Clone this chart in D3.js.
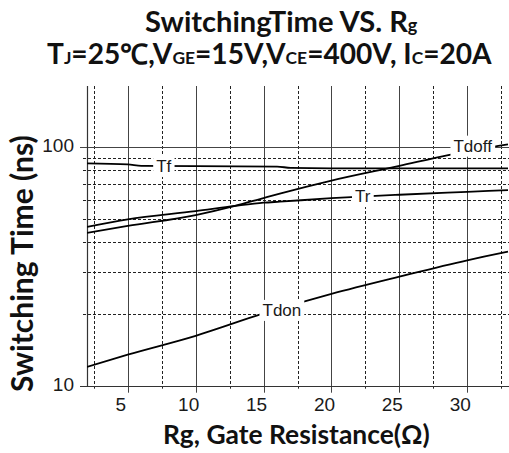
<!DOCTYPE html>
<html><head><meta charset="utf-8">
<script src="https://cdn.jsdelivr.net/npm/d3@7"></script>
<style>body{margin:0;background:#fff}</style></head>
<body>
<svg id="c" width="509" height="453"></svg>
<script>
// ---- data ----
const rgTdon = [2, 5, 10, 15, 20, 25, 30, 33];
const tdon   = [12.0, 13.5, 16.2, 20.1, 24.3, 28.7, 33.6, 36.5];
const rgTr   = [2, 5, 10, 12.9, 15, 16.2, 20, 25, 30, 33];
const tr     = [46.4, 49.9, 54.0, 56.8, 58.6, 59.2, 61.2, 63.3, 65.1, 66.2];
const rgTdoff = [2, 5, 10, 12.9, 15, 16.2, 20, 25, 28.6, 33];
const tdoff   = [43.8, 46.8, 52.0, 56.8, 61.3, 64.0, 72.6, 83.7, 92.9, 103];
const rgTf = [2, 5, 6, 16, 17, 20, 33];
const tf   = [85.7, 84.9, 83.7, 83.0, 82.1, 81.7, 81.6];
const xMajorTicks = [5, 10, 15, 20, 25, 30];
const xMinorTicks = [2.5, 7.5, 12.5, 17.5, 22.5, 27.5, 32.5];
const yMajorTicks = [10, 100];
const yMinorTicks = [20, 30, 40, 50, 60, 70, 80, 90];
const curveLabels = [
  {name: "Tf",    rg: 7.65,  v: 83.6},
  {name: "Tr",    rg: 22.3,  v: 62.5},
  {name: "Tdoff", rg: 30.4,  v: 101.7},
  {name: "Tdon",  rg: 16.35, v: 20.8}
];

// ---- layout ----
const L = 87, R = 508, T = 86, B = 385.7;
const svg = d3.select("#c");
const x = d3.scaleLinear().domain([2, 33]).range([L, R]);
const y = d3.scaleLog().domain([10, 181]).range([B, T]);
const TF = "'Liberation Sans', Arial, sans-serif";
const BF = "Lato, 'Open Sans', sans-serif";

svg.append("defs").append("clipPath").attr("id", "pc")
  .append("rect").attr("x", L).attr("y", T).attr("width", R - L + 1).attr("height", B - T);

const g = svg.append("g");
// grid
g.selectAll(".vmin").data(xMinorTicks).join("line")
  .attr("x1", d => Math.round(x(d)) + 0.5).attr("x2", d => Math.round(x(d)) + 0.5)
  .attr("y1", T).attr("y2", B + 3)
  .attr("stroke", "#222").attr("stroke-width", 1).attr("stroke-dasharray", "3,2");
g.selectAll(".vmaj").data(xMajorTicks).join("line")
  .attr("x1", d => Math.round(x(d)) + 0.5).attr("x2", d => Math.round(x(d)) + 0.5)
  .attr("y1", T).attr("y2", B + 7)
  .attr("stroke", "#444").attr("stroke-width", 1);
g.selectAll(".hmin").data(yMinorTicks).join("line")
  .attr("x1", L - 4).attr("x2", R + 1)
  .attr("y1", d => Math.round(y(d)) + 0.5).attr("y2", d => Math.round(y(d)) + 0.5)
  .attr("stroke", "#222").attr("stroke-width", 1).attr("stroke-dasharray", "3,2");
g.selectAll(".hmaj").data(yMajorTicks).join("line")
  .attr("x1", L - 7).attr("x2", R + 1)
  .attr("y1", d => Math.round(y(d)) + 0.5).attr("y2", d => Math.round(y(d)) + 0.5)
  .attr("stroke", "#444").attr("stroke-width", 1);
// axes lines
g.append("line").attr("x1", L + 0.5).attr("x2", L + 0.5).attr("y1", T).attr("y2", B + 1)
  .attr("stroke", "#333").attr("stroke-width", 1.2);
g.append("line").attr("x1", L - 7).attr("x2", R + 1).attr("y1", Math.round(B) + 0.5).attr("y2", Math.round(B) + 0.5)
  .attr("stroke", "#333").attr("stroke-width", 1.2);

// tick labels
g.selectAll(".xl").data(xMajorTicks).join("text")
  .attr("x", d => x(d) - 7).attr("y", 411)
  .attr("text-anchor", "middle").attr("font-family", TF).attr("font-size", 19)
  .attr("fill", "#1a1a1a").text(d => d);
g.selectAll(".yl").data(yMajorTicks).join("text")
  .attr("x", 74).attr("y", d => y(d) + 5)
  .attr("text-anchor", "end").attr("font-family", TF).attr("font-size", 19)
  .attr("fill", "#1a1a1a").text(d => d);

// curves
const line = d3.line().x(d => x(d[0])).y(d => y(d[1])).curve(d3.curveMonotoneX);
const series = [[rgTdon, tdon], [rgTr, tr], [rgTdoff, tdoff], [rgTf, tf]];
const cg = svg.append("g").attr("clip-path", "url(#pc)");
series.forEach(([xs, vs]) => {
  cg.append("path").attr("d", line(xs.map((r, i) => [r, vs[i]])))
    .attr("fill", "none").attr("stroke", "#000").attr("stroke-width", 1.8);
});

// curve labels with white background
curveLabels.forEach(c => {
  const gg = svg.append("g");
  const t = gg.append("text").attr("x", x(c.rg)).attr("y", y(c.v) + 6)
    .attr("text-anchor", "middle").attr("font-family", TF).attr("font-size", 17)
    .attr("fill", "#1a1a1a").text(c.name);
  const bb = t.node().getBBox();
  gg.insert("rect", "text").attr("x", bb.x - 3).attr("y", bb.y - 1)
    .attr("width", bb.width + 6).attr("height", bb.height + 2).attr("fill", "#fff");
});

// fit helper
function fit(sel, target) {
  const w = sel.node().getBBox().width;
  const fs = +sel.attr("font-size");
  sel.attr("font-size", fs * target / w);
}

// titles
const t1 = svg.append("text").attr("x", 145).attr("y", 32)
  .attr("font-family", BF).attr("font-weight", "bold").attr("font-size", 26).attr("fill", "#111");
t1.append("tspan").text("SwitchingTime VS. R");
t1.append("tspan").attr("font-size", "0.62em").text("g");
fit(t1, 273);

const t2 = svg.append("text").attr("x", 47).attr("y", 63.5)
  .attr("font-family", BF).attr("font-weight", "bold").attr("font-size", 26).attr("fill", "#111");
const parts = [["T", 0], ["J", 1], ["=25℃,V", 0], ["GE", 1], ["=15V,V", 0], ["CE", 1], ["=400V, I", 0], ["C", 1], ["=20A", 0]];
parts.forEach(([s, sub]) => {
  const ts = t2.append("tspan").text(s);
  if (sub) ts.attr("font-size", "0.62em");
});
fit(t2, 446);

// axis titles
const xt = svg.append("text").attr("x", 163).attr("y", 444)
  .attr("font-family", BF).attr("font-weight", "bold").attr("font-size", 24).attr("fill", "#111")
  .text("Rg, Gate Resistance(Ω)");
fit(xt, 267);

const yt = svg.append("text").attr("transform", "translate(33,392) rotate(-90)")
  .attr("x", 0).attr("y", 0)
  .attr("font-family", BF).attr("font-weight", "bold").attr("font-size", 24).attr("fill", "#111")
  .text("Switching Time (ns)");
fit(yt, 257);
</script>
</body></html>
